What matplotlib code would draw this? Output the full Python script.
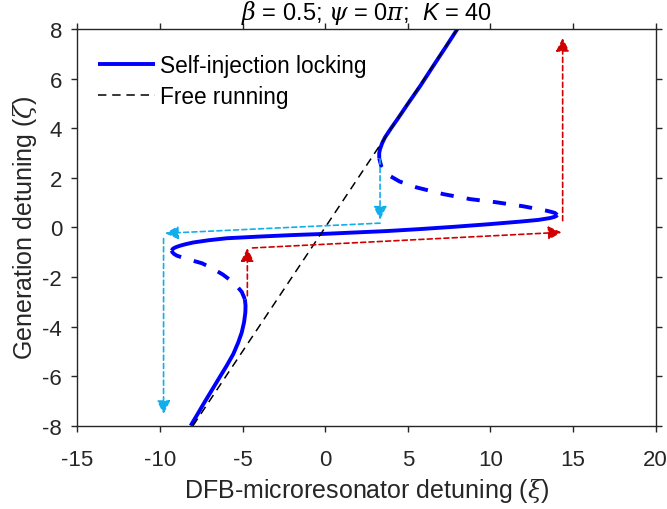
import matplotlib
matplotlib.use("Agg")
import matplotlib.pyplot as plt

plt.rcParams["font.family"] = ["Liberation Sans", "DejaVu Sans"]
plt.rcParams["mathtext.fontset"] = "custom"
plt.rcParams["mathtext.rm"] = "Liberation Sans"
plt.rcParams["mathtext.it"] = "Liberation Sans:italic"
plt.rcParams["mathtext.sf"] = "DejaVu Serif:italic"
plt.rcParams["axes.unicode_minus"] = False

# Tuning curve: generation detuning zeta vs DFB-microresonator detuning xi
# stable branches (solid)
zeta_low = [-8.0, -7.53, -7.13, -6.59, -6.05, -5.58, -5.11, -4.64, -4.24, -3.83, -3.43, -3.15, -2.9]
xi_low = [-8.14, -7.72, -7.37, -6.88, -6.39, -5.96, -5.56, -5.26, -5.05, -4.91, -4.83, -4.82, -4.86]

zeta_mid = [-0.94, -0.86, -0.80, -0.74, -0.68, -0.61, -0.52, -0.44, -0.37, -0.31, -0.27,
            -0.21, -0.15, -0.07, 0.02, 0.12, 0.23, 0.30, 0.375, 0.42, 0.46, 0.50]
xi_mid = [-9.29, -9.21, -9.04, -8.78, -8.45, -7.98, -7.05, -5.96, -3.94, -1.93, -0.31,
          1.70, 3.72, 5.73, 7.75, 9.77, 11.78, 12.9, 13.6, 13.86, 13.99, 14.04]

zeta_high = [2.78, 3.0, 3.16, 3.4, 3.63, 4.03, 4.37, 5.0, 5.71, 6.5, 7.3, 8.0]
xi_high = [3.27, 3.27, 3.32, 3.45, 3.62, 4.02, 4.38, 5.02, 5.76, 6.53, 7.32, 8.0]

# unstable branches (dashed)
zeta_unst_low = [-2.9, -2.6, -2.25, -1.9, -1.65, -1.45, -1.25, -1.14, -1.07, -1.0, -0.94]
xi_unst_low = [-4.86, -5.05, -5.5, -6.2, -6.85, -7.45, -8.5, -8.98, -9.15, -9.25, -9.29]

zeta_unst_high = [0.50, 0.58, 0.62, 0.67, 0.85, 1.01, 1.14, 1.34, 1.61, 1.85, 2.15, 2.45, 2.78]
xi_unst_high = [14.04, 13.9, 13.7, 13.4, 11.98, 10.37, 8.76, 7.15, 5.53, 4.5, 3.72, 3.4, 3.27]

# free-running laser: zeta = xi
xi_free = [-8.0, 8.0]
zeta_free = [-8.0, 8.0]

# hysteresis jumps: (xi_start, zeta_start, xi_end, zeta_end)
jumps_down = [(3.32, 2.75, 3.32, 0.31),
              (3.32, 0.17, -9.69, -0.24),
              (-9.78, -0.45, -9.78, -7.53)]
jumps_up = [(-4.71, -2.76, -4.71, -0.84),
            (-4.4, -0.83, 14.31, -0.20),
            (14.37, 0.27, 14.37, 7.64)]

BLUE = (0, 0, 1)
CYAN = "#12aeec"
RED = "#d00000"
AXCOL = "#262626"

fig = plt.figure(figsize=(6.67, 5.10), dpi=100)
ax = fig.add_axes([77.3 / 667, 1 - 426.7 / 510, (655.7 - 77.3) / 667, (426.7 - 30) / 510])

sil_line, = ax.plot(xi_low, zeta_low, color=BLUE, lw=2.8, solid_capstyle="butt",
                    label="Self-injection locking")
ax.plot(xi_mid, zeta_mid, color=BLUE, lw=2.8, solid_capstyle="butt")
ax.plot(xi_high, zeta_high, color=BLUE, lw=2.8, solid_capstyle="butt")
ax.plot(xi_unst_low, zeta_unst_low, color=BLUE, lw=2.8, ls=(0, (3.4, 3.4)), dash_capstyle="butt")
ax.plot(xi_unst_high, zeta_unst_high, color=BLUE, lw=2.8, ls=(0, (3.4, 3.4)), dash_capstyle="butt")

free_line, = ax.plot(xi_free, zeta_free, color="k", lw=1.1, ls=(0, (5.5, 3.8)),
                     label="Free running")


def jump_arrow(x0, y0, x1, y1, color):
    ax.annotate("", xy=(x1, y1), xytext=(x0, y0),
                arrowprops=dict(arrowstyle="-|>,head_length=0.8,head_width=0.4",
                                color=color, lw=1.2, ls=(0, (3.0, 2.0)),
                                shrinkA=0, shrinkB=0, mutation_scale=10))


for j in jumps_down:
    jump_arrow(*j, CYAN)
for j in jumps_up:
    jump_arrow(*j, RED)

ax.set_xlim(-15, 20)
ax.set_ylim(-8, 8)
ax.set_xticks(range(-15, 21, 5))
ax.set_yticks(range(-8, 9, 2))

for s in ax.spines.values():
    s.set_color(AXCOL)
    s.set_linewidth(1.0)
ax.tick_params(direction="out", length=4.3, width=1.0, color=AXCOL, labelcolor=AXCOL,
               labelsize=16, top=True, right=True)
ax.tick_params(axis="x", pad=12.5)
ax.tick_params(axis="y", pad=6.7)

ax.set_xlabel(r"DFB-microresonator detuning ($\mathsf{\xi}$)", fontsize=18, color=AXCOL)
ax.xaxis.label.set_va("baseline")
ax.xaxis.set_label_coords(0.5, -(498 - 426.7) / 396.7)
ax.set_ylabel(r"Generation detuning ($\mathsf{\zeta}$)", fontsize=18, color=AXCOL)
ax.yaxis.label.set_va("baseline")
ax.yaxis.set_label_coords((32.3 - 77.3) / 578.4, 0.5)

fig.text(366.5 / 667, 1 - 20 / 510,
         r"$\mathsf{\beta}$ = 0.5; $\mathsf{\psi}$ = 0$\mathsf{\pi}$;  $K$ = 40",
         ha="center", va="baseline", fontsize=17, color="k")

ax.legend(handles=[sil_line, free_line], loc="upper left",
          bbox_to_anchor=((98 - 77.3) / 578.4, 1 - (55 - 30) / 396.7),
          frameon=False, fontsize=16.3, borderpad=0, borderaxespad=0,
          handlelength=41 / 16.3, handletextpad=0.22, labelspacing=0.35)

fig.savefig("out.png", dpi=100)
